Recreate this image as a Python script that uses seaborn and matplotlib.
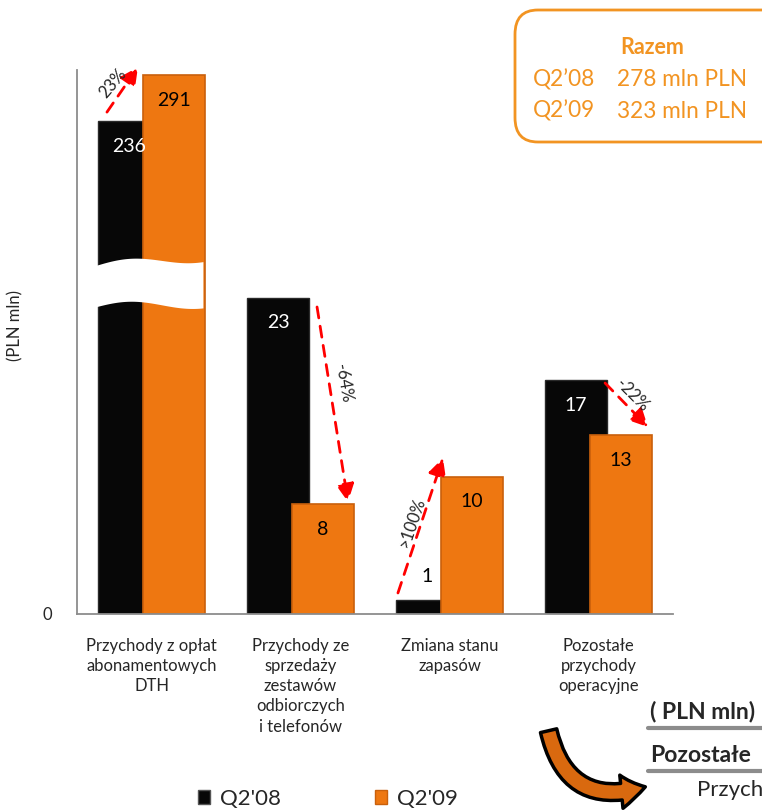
import matplotlib
matplotlib.use("Agg")
import matplotlib.pyplot as plt
from matplotlib.patches import FancyBboxPatch, FancyArrowPatch, Patch
from matplotlib.lines import Line2D
import numpy as np
import pandas as pd
import seaborn as sns

# ---------------------------------------------------------------------------
# Data
# ---------------------------------------------------------------------------
categories = [
    "Przychody z opłat\nabonamentowych\nDTH",
    "Przychody ze\nsprzedaży\nzestawów\nodbiorczych\ni telefonów",
    "Zmiana stanu\nzapasów",
    "Pozostałe\nprzychody\noperacyjne",
]
series = ["Q2'08", "Q2'09"]
q2_08 = [236, 23, 1, 17]
q2_09 = [291, 8, 10, 13]
changes = ["23%", "-64%", ">100%", "-22%"]
totals = {"Q2’08": "278 mln PLN", "Q2’09": "323 mln PLN"}

BLACK = "#070707"
ORANGE = "#EE7711"
BOX_ORANGE = "#F29422"
GRID_GREY = "#8c8c8c"

# broken value axis: linear up to 30, then squeezed
_BREAK_IN = [0, 30, 236, 320]
_BREAK_OUT = [0, 30, 35.85, 35.85 + 84 * 0.0609]


def _fwd(v):
    return np.interp(v, _BREAK_IN, _BREAK_OUT)


def _inv(v):
    return np.interp(v, _BREAK_OUT, _BREAK_IN)


sns.set_theme(style="white")
plt.rcParams["font.family"] = ["Lato", "DejaVu Sans"]

fig = plt.figure(figsize=(7.62, 8.10), dpi=100)
ax = fig.add_axes([77 / 762, 1 - 614 / 810, 596 / 762, 544 / 810])
ax.set_yscale("function", functions=(_fwd, _inv))

idx = np.arange(len(categories))
df08 = pd.DataFrame({"pos": idx - 0.151, "value": q2_08})
df09 = pd.DataFrame({"pos": idx + 0.151, "value": q2_09})

sns.barplot(data=df08, x="pos", y="value", native_scale=True, width=0.42,
            color=BLACK, saturation=1, errorbar=None, ax=ax,
            edgecolor="#2a2a2a", linewidth=1.0)
sns.barplot(data=df09, x="pos", y="value", native_scale=True, width=0.42,
            color=ORANGE, saturation=1, errorbar=None, ax=ax,
            edgecolor="#c9600c", linewidth=1.2)

ax.set_xlim(-0.5, 3.5)
ax.set_ylim(0, 297)

# axes styling
for side in ["top", "right"]:
    ax.spines[side].set_visible(False)
for side in ["left", "bottom"]:
    ax.spines[side].set_color(GRID_GREY)
    ax.spines[side].set_linewidth(1.3)
ax.set_yticks([0])
ax.set_yticklabels(["0"], fontsize=12)
ax.set_xticks(np.arange(-0.5, 4, 1))
ax.set_xticklabels([])
ax.set_xticks(idx, minor=True)
ax.set_xticklabels(categories, minor=True, fontsize=12, linespacing=1.33,
                   va="top")
ax.tick_params(axis="x", which="major", direction="out", length=6,
               color=GRID_GREY, width=1.3)
ax.tick_params(axis="x", which="minor", length=0, pad=17)
ax.tick_params(axis="y", direction="out", length=6, color=GRID_GREY,
               width=1.3, pad=12)
ax.set_xlabel("")
ax.set_ylabel("(PLN mln)", fontsize=12)
ax.yaxis.set_label_coords(-0.09, 0.53)

# axis break band across the first pair
bx = np.linspace(-0.39, 0.345, 60)
wave = 0.35 * np.sin((bx + 0.39) / 0.735 * np.pi * 1.6)
ax.fill_between(bx, 22.3 + wave + (bx + 0.39) * 0.4, 25.3 + wave + (bx + 0.39) * 0.9,
                color="white", zorder=5, linewidth=0)

# value labels
for i in idx:
    for v, x, col in [(q2_08[i], i - 0.151, "white"), (q2_09[i], i + 0.151, "black")]:
        if v < 3:
            ax.annotate(str(v), (x, v), xytext=(0, 17), textcoords="offset points",
                        ha="center", va="center", fontsize=14, color="black", zorder=6)
        else:
            ax.annotate(str(v), (x, v), xytext=(0, -18), textcoords="offset points",
                        ha="center", va="center", fontsize=14, color=col, zorder=6)

# change arrows (start, end, label pos, rotation)
arrow_specs = [
    ((-0.299, 246.7), (-0.091, 300.5), (-0.262, 281.5), 50),
    ((1.111, 22.33), (1.319, 8.15), (1.29, 16.8), -80),
    ((1.654, 1.53), (1.956, 11.35), (1.748, 6.6), 71),
    ((3.044, 16.8), (3.332, 13.6), (3.225, 15.9), -45),
]
for (start, end, lpos, rot), lab in zip(arrow_specs, changes):
    ax.annotate("", xy=end, xytext=start, annotation_clip=False, zorder=7,
                arrowprops=dict(arrowstyle="-|>,head_length=0.9,head_width=0.45",
                                color="#FF0000", lw=2, linestyle=(0, (4, 3)),
                                shrinkA=0, shrinkB=0))
    ax.text(lpos[0], lpos[1], lab, rotation=rot, rotation_mode="anchor",
            ha="center", va="center", fontsize=12, zorder=7, clip_on=False)

# totals box top-right
box = FancyBboxPatch((515 / 762, 1 - 142 / 810), 270 / 762, 132 / 810,
                     boxstyle="round,pad=0,rounding_size=0.03",
                     transform=fig.transFigure, facecolor="white",
                     edgecolor=BOX_ORANGE, lw=2, clip_on=False)
fig.patches.append(box)
fig.text(652 / 762, 1 - 48 / 810, "Razem", color=BOX_ORANGE, fontsize=15.5,
         fontweight="bold", ha="center", va="center")
for k, (lab, val) in enumerate(totals.items()):
    y = 1 - (80 + 31 * k) / 810
    fig.text(533 / 762, y, lab, color=BOX_ORANGE, fontsize=16.3, ha="left", va="center")
    fig.text(617 / 762, y, val, color=BOX_ORANGE, fontsize=16.3, ha="left", va="center")

# legend
handles = [Patch(facecolor=BLACK, edgecolor="#555"), Patch(facecolor=ORANGE, edgecolor="#c9600c")]
fig.legend(handles, series, loc="center", bbox_to_anchor=(328 / 762, 1 - 799 / 810),
           ncol=2, frameon=False, fontsize=16, handlelength=0.55, handleheight=0.55,
           handletextpad=0.45, columnspacing=4.2)

# curved arrow and clipped neighbour-slide text, bottom right
arr = FancyArrowPatch((548 / 762, 1 - 728 / 810), (648 / 762, 1 - 786 / 810),
                      transform=fig.transFigure,
                      connectionstyle="arc3,rad=0.55",
                      arrowstyle="simple,head_length=1.1,head_width=1.5,tail_width=0.75",
                      mutation_scale=16, facecolor="#D9690F", edgecolor="black", lw=2.5)
fig.patches.append(arr)
fig.text(650 / 762, 1 - 711 / 810, "( PLN mln)", fontsize=16.5, fontweight="bold",
         ha="left", va="center")
fig.text(650 / 762, 1 - 755 / 810, "Pozostałe", fontsize=16.5, fontweight="bold",
         ha="left", va="center")
fig.text(697 / 762, 1 - 790 / 810, "Przych", fontsize=16, ha="left", va="center")
for yy in [728, 771]:
    fig.add_artist(Line2D([648 / 762, 1.0], [1 - yy / 810] * 2, color=GRID_GREY,
                          lw=3, transform=fig.transFigure))

fig.savefig("out.png", dpi=100)
